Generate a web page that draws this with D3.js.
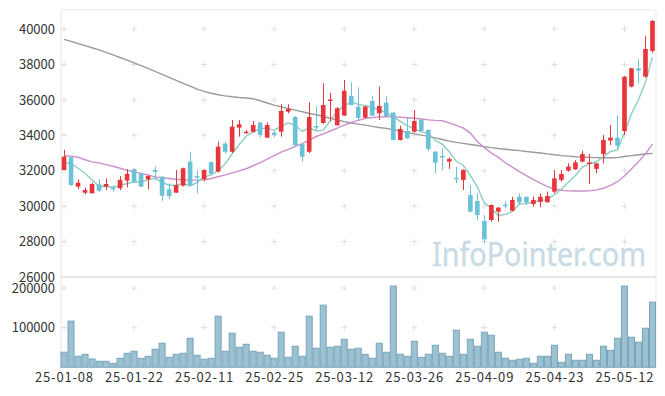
<!DOCTYPE html>
<html>
<head>
<meta charset="utf-8">
<script src="https://cdnjs.cloudflare.com/ajax/libs/d3/7.8.5/d3.min.js"></script>
<style>
  body { margin: 0; background: #fff; }
  text { font-family: "Noto Sans CJK KR", "Noto Sans", sans-serif; }
</style>
</head>
<body>
<script>
    // trading days (yy-mm-dd)
    var dates = [
        "25-01-08","25-01-09","25-01-10","25-01-13","25-01-14","25-01-15","25-01-16","25-01-17","25-01-20","25-01-21",
        "25-01-22","25-01-23","25-01-24","25-01-31","25-02-03","25-02-04","25-02-05","25-02-06","25-02-07","25-02-10",
        "25-02-11","25-02-12","25-02-13","25-02-14","25-02-17","25-02-18","25-02-19","25-02-20","25-02-21","25-02-24",
        "25-02-25","25-02-26","25-02-27","25-02-28","25-03-04","25-03-05","25-03-06","25-03-07","25-03-10","25-03-11",
        "25-03-12","25-03-13","25-03-14","25-03-17","25-03-18","25-03-19","25-03-20","25-03-21","25-03-24","25-03-25",
        "25-03-26","25-03-27","25-03-28","25-03-31","25-04-01","25-04-02","25-04-03","25-04-04","25-04-07","25-04-08",
        "25-04-09","25-04-10","25-04-11","25-04-14","25-04-15","25-04-16","25-04-17","25-04-18","25-04-21","25-04-22",
        "25-04-23","25-04-24","25-04-25","25-04-28","25-04-29","25-04-30","25-05-02","25-05-07","25-05-08","25-05-09",
        "25-05-12","25-05-13","25-05-14","25-05-15","25-05-16"
    ];

    var open = [
        32040,32760,31100,30760,30720,31230,31100,31040,31010,31440,
        32080,31850,31515,32040,31660,30950,30760,31155,32510,31700,
        31515,32480,31950,33530,33070,34430,34110,34200,34710,33864,
        34140,34200,35330,35030,33500,33070,34520,34690,35955,34560,
        35108,36230,35617,34993,35937,35240,35842,35278,33734,34241,
        34200,34863,34300,33073,32830,32510,31600,31476,30630,30290,
        29161,29220,29690,30080,29740,30530,30530,30120,30240,30220,
        30815,31480,32000,32080,32510,32380,32100,32943,33700,33865,
        34240,36745,37780,37310,38760
    ];
    var high = [
        33170,32780,31510,31040,31320,31530,31570,31190,31700,32080,
        32120,31900,31760,32260,31700,31290,32040,32170,33070,32040,
        32080,32530,33640,33640,34860,34860,34300,34810,34750,34730,
        34240,35750,35750,35100,33560,35860,35620,36935,36400,35600,
        37120,36990,36700,35650,36218,36745,36218,35300,34541,34993,
        35427,34900,34350,33100,33265,32750,32227,32080,31190,30723,
        29500,30100,29950,30250,30530,30720,30540,30530,30720,30820,
        32000,32040,32420,32600,33130,32940,32430,34016,34580,35145,
        37350,37800,38290,39600,40500
    ];
    var low = [
        32040,31150,30970,30670,30720,30810,30910,30820,30910,31060,
        31300,31080,30950,31480,30300,30390,30760,31120,31150,30720,
        31400,31800,31900,32980,33000,33920,34100,34150,33900,33860,
        33920,33920,35240,33430,32510,33000,34300,34650,34800,34550,
        35100,35700,34860,34950,35100,34863,35050,33734,33700,33800,
        34150,34241,33100,31853,32040,32100,31290,30910,29650,29218,
        27937,29120,29120,29880,29700,30060,30060,29970,29930,30200,
        30720,31380,31950,32040,32470,31250,31850,32415,33450,33170,
        34016,36700,36930,37250,38650
    ];
    var close = [
        32790,31190,31320,30910,31250,30870,31250,30970,31480,31815,
        31380,31100,31700,31930,30590,30570,31190,32136,31190,31630,
        32040,31820,33360,33070,34485,34620,34200,34580,34020,34580,
        34020,35370,35480,33430,32790,35030,34480,35710,36020,35520,
        36510,35700,34980,35617,35108,35655,35090,33734,34355,33827,
        34806,34241,33225,32452,32760,32660,31550,32040,29690,29500,
        28125,30065,29915,30050,30350,30200,30200,30350,30530,30570,
        31570,31815,32230,32470,32940,32470,32415,33734,33865,33410,
        37300,37780,37650,38870,40450
    ];
    var volume = [
        38000,116500,27800,32900,21000,15200,15200,10100,22800,35400,
        40500,22800,27800,45600,60800,25300,32900,35400,73400,30400,
        20300,22800,129000,40500,86100,50600,58200,40500,38000,30400,
        22800,88600,25300,53200,27800,129000,48100,157000,50600,53200,
        70900,45600,48100,32900,22800,60800,38000,205000,32900,27800,
        65800,25300,32900,55700,35400,27800,93700,32900,70900,53200,
        88600,81000,38000,22800,17700,20300,22800,10100,27800,27800,
        55700,12700,32900,17700,17700,32900,17700,53200,43000,73400,
        205000,75900,63300,98700,164600
    ];

    // closes of the four sessions before 25-01-08 (for the 5 day average)
    var priorCloses = [31365, 32715, 32325, 33055];

    // 20 and 60 day averages as drawn (they need history older than the chart)
    var ma20 = [
        32830,32820,32760,32620,32500,32440,32340,32250,32140,32020,
        31930,31850,31760,31650,31600,31560,31520,31490,31470,31470,
        31480,31560,31660,31760,31880,31990,32110,32280,32450,32650,
        32850,33050,33200,33370,33530,33730,33930,34080,34240,34400,
        34570,34720,34840,34950,35000,35040,35050,35040,35020,34990,
        34960,34920,34870,34840,34820,34700,34560,34400,34120,33650,
        33300,33000,32750,32450,32200,31950,31720,31500,31300,31100,
        30970,30900,30860,30850,30850,30860,30920,31010,31170,31380,
        31700,32100,32500,32950,33500
    ];
    var ma60 = [
        39415,39300,39180,39060,38940,38820,38680,38540,38390,38240,
        38080,37930,37770,37610,37440,37270,37100,36930,36770,36600,
        36480,36370,36290,36220,36170,36130,36100,36060,35950,35820,
        35700,35600,35510,35420,35330,35230,35160,35060,34960,34860,
        34770,34690,34630,34570,34500,34440,34390,34310,34230,34160,
        34080,34010,33940,33850,33760,33670,33600,33540,33480,33420,
        33360,33300,33250,33210,33170,33130,33080,33040,33000,32950,
        32900,32850,32820,32790,32770,32750,32735,32730,32730,32740,
        32800,32850,32900,32940,32980
    ];

    var priceTicks = [26000, 28000, 30000, 32000, 34000, 36000, 38000, 40000];
    var volumeTicks = [100000, 200000];
    var xTickLabels = ["25-01-08","25-01-22","25-02-11","25-02-25","25-03-12","25-03-26","25-04-09","25-04-23","25-05-12"];

    let width = 665;
    let height = 396;

    let svg = d3.select("body")
        .append("svg")
        .attr("width", width)
        .attr("height", height);

    svg.append("rect").attr("width", width).attr("height", height).attr("fill", "#fff");

    let x = d3.scaleBand()
        .domain(d3.range(dates.length))
        .range([60.5, 656]);

    let y = d3.scaleLinear()
        .domain([26000, 41070])
        .range([277, 10]);

    let yVol = d3.scaleLinear()
        .domain([0, 228000])
        .range([367.3, 277]);

    let cx = i => x(i) + x.bandwidth() / 2;

    // 5 day average from closes
    var allCloses = priorCloses.concat(close);
    var ma5 = close.map((c, i) => d3.mean(allCloses.slice(i, i + 5)));

    var gridColor = "#dedede";

    // frame
    svg.append("line").attr("x1", 61).attr("x2", 656).attr("y1", 10).attr("y2", 10)
        .attr("stroke", "#e8e8e8");
    svg.append("line").attr("x1", 656).attr("x2", 656).attr("y1", 10).attr("y2", 367)
        .attr("stroke", "#e8e8e8");
    svg.append("line").attr("x1", 61).attr("x2", 61).attr("y1", 10).attr("y2", 368)
        .attr("stroke", "#e3e3e3");
    svg.append("line").attr("x1", 61).attr("x2", 656).attr("y1", y(26000)).attr("y2", y(26000))
        .attr("stroke", "#e6e6e6").attr("stroke-width", 2);

    // grid crosses
    var tickIdx = xTickLabels.map(d => dates.indexOf(d));
    var crossPts = [];
    tickIdx.forEach(function(i) {
        priceTicks.slice(1).forEach(v => crossPts.push([cx(i), y(v)]));
        volumeTicks.forEach(v => crossPts.push([cx(i), yVol(v)]));
    });
    svg.append("g").selectAll("path")
        .data(crossPts)
        .enter()
        .append("path")
        .attr("d", d => "M" + (d[0] - 3) + "," + d[1] + "h6M" + d[0] + "," + (d[1] - 3) + "v6")
        .attr("stroke", gridColor)
        .attr("stroke-width", 1);

    // watermark
    svg.append("text")
        .attr("x", 432)
        .attr("y", 265.5)
        .attr("textLength", 214)
        .attr("lengthAdjust", "spacingAndGlyphs")
        .style("font-family", "'Noto Sans', sans-serif")
        .style("font-size", "32px")
        .attr("fill", "#c9dbe5")
        .attr("stroke", "#c9dbe5")
        .attr("stroke-width", 0.4)
        .text("InfoPointer.com");

    // moving averages
    let line = d3.line()
        .x((d, i) => cx(i))
        .y(d => y(d));

    svg.append("path").datum(ma60).attr("d", line)
        .attr("fill", "none").attr("stroke", "#9a9a9a").attr("stroke-width", 1.4);
    svg.append("path").datum(ma20).attr("d", line)
        .attr("fill", "none").attr("stroke", "#cc8fcb").attr("stroke-width", 1.4);
    svg.append("path").datum(ma5).attr("d", line)
        .attr("fill", "none").attr("stroke", "#8ccdbf").attr("stroke-width", 1.4);

    // candles
    var up = "#e8353b";
    var down = "#6bc1d8";
    var bodyW = x.bandwidth() * 0.66;

    let candles = svg.append("g")
        .selectAll("g")
        .data(dates.map((d, i) => i))
        .enter()
        .append("g");

    candles.append("line")
        .attr("x1", i => Math.round(cx(i)) + 0.5)
        .attr("x2", i => Math.round(cx(i)) + 0.5)
        .attr("y1", i => y(high[i]))
        .attr("y2", i => y(low[i]))
        .attr("stroke", i => close[i] >= open[i] ? up : down)
        .attr("stroke-width", 1);

    candles.append("rect")
        .attr("x", i => cx(i) - bodyW / 2)
        .attr("width", bodyW)
        .attr("y", i => y(Math.max(open[i], close[i])))
        .attr("height", i => Math.max(1.5, Math.abs(y(open[i]) - y(close[i]))))
        .attr("fill", i => close[i] >= open[i] ? up : down);

    // volume bars
    svg.append("g")
        .selectAll("rect")
        .data(volume)
        .enter()
        .append("rect")
        .attr("x", (d, i) => x(i) + 0.5)
        .attr("width", x.bandwidth() - 1)
        .attr("y", d => yVol(d))
        .attr("height", d => yVol(0) - yVol(d))
        .attr("fill", "#9cc1d1")
        .attr("stroke", "#78a5bb")
        .attr("stroke-width", 1);

    // y labels
    svg.append("g").selectAll("text")
        .data(priceTicks)
        .enter()
        .append("text")
        .attr("x", 55)
        .attr("y", d => y(d))
        .attr("dy", "0.36em")
        .attr("text-anchor", "end")
        .style("font-size", "13px")
        .attr("fill", "#333")
        .text(d => d);

    svg.append("g").selectAll("text")
        .data(volumeTicks)
        .enter()
        .append("text")
        .attr("x", 55)
        .attr("y", d => yVol(d))
        .attr("dy", "0.36em")
        .attr("text-anchor", "end")
        .style("font-size", "13px")
        .attr("fill", "#333")
        .text(d => d);

    // x labels
    svg.append("g").selectAll("text")
        .data(xTickLabels)
        .enter()
        .append("text")
        .attr("x", d => cx(dates.indexOf(d)))
        .attr("y", 377.5)
        .attr("dy", "0.36em")
        .attr("text-anchor", "middle")
        .attr("textLength", 58)
        .attr("lengthAdjust", "spacing")
        .style("font-size", "13px")
        .attr("fill", "#333")
        .text(d => d);
</script>
</body>
</html>
